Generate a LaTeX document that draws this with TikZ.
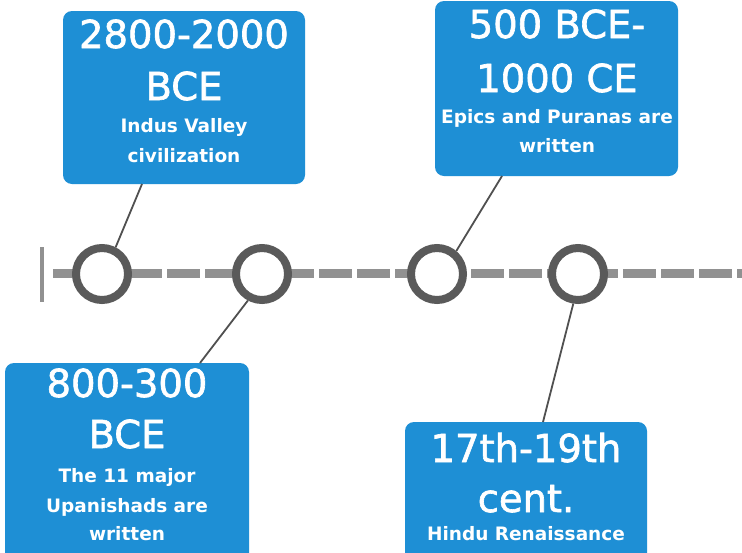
\documentclass[tikz,border=0pt]{standalone}
\usepackage{fontspec}
\setmainfont{DejaVu Sans}
\newfontface\medface{DejaVu Sans}[FakeBold=1.6]
\definecolor{boxblue}{RGB}{30,143,213}
\definecolor{ringgray}{RGB}{90,90,90}
\definecolor{dashgray}{RGB}{145,145,145}
\definecolor{linkgray}{RGB}{80,80,80}
\begin{document}
\begin{tikzpicture}[x=1pt,y=-1pt,
 card/.style={draw=none, fill=boxblue, rounded corners=9pt, anchor=north west, inner sep=0pt, outer sep=0pt},
 big/.style={anchor=base, text=white, font=\medface\fontsize{38.5}{44}\selectfont, inner sep=0pt},
 small/.style={anchor=base, text=white, font=\fontsize{18.5}{22}\selectfont\bfseries, inner sep=0pt},
 ring/.style={circle, draw=ringgray, line width=8pt, minimum size=52pt, inner sep=0pt, fill=white},
 link/.style={draw=linkgray, line width=1.8pt},
 axis/.style={draw=dashgray, line width=9pt, dash pattern=on 33pt off 5pt},
 bar/.style={draw=dashgray, line width=4pt},
]
\clip (0,0) rectangle (742,552);
\fill[white] (0,0) rectangle (742,552);

% timeline
\coordinate (ls) at (53,273);
\coordinate (le) at (750,273);
\draw[axis] (ls) -- (le);
\coordinate (bt) at (42,247);
\coordinate (bb) at (42,302);
\draw[bar] (bt) -- (bb);

\node[ring] (r1) at (102,274) {};
\node[ring] (r2) at (262,274) {};
\node[ring] (r3) at (437,274) {};
\node[ring] (r4) at (578,274) {};

% boxes
\node[card, minimum width=242pt, minimum height=173pt] (b1) at (63,11) {};
\node[card, minimum width=243pt, minimum height=175pt] (b2) at (435,1) {};
\node[card, minimum width=244pt, minimum height=210pt] (b3) at (5,363) {};
\node[card, minimum width=242pt, minimum height=160pt] (b4) at (405,422) {};

% texts box 1
\node[big] (t1a) at (184,48) {2800-2000};
\node[big] (t1b) at (184,100) {BCE};
\node[small] (t1c) at (184,132) {Indus Valley};
\node[small] (t1d) at (184,162) {civilization};

% texts box 2
\node[big] (t2a) at (557,38) {500 BCE-};
\node[big] (t2b) at (557,92) {1000 CE};
\node[small] (t2c) at (557,123) {Epics and Puranas are};
\node[small] (t2d) at (557,152) {written};

% texts box 3
\node[big] (t3a) at (127,397) {800-300};
\node[big] (t3b) at (127,448) {BCE};
\node[small] (t3c) at (127,482) {The 11 major};
\node[small] (t3d) at (127,512) {Upanishads are};
\node[small] (t3e) at (127,540) {written};

% texts box 4
\node[big] (t4a) at (526,462) {17th-19th};
\node[big] (t4b) at (526,512) {cent.};
\node[small] (t4c) at (526,540) {Hindu Renaissance};

% connectors
\draw[link] ([xshift=79pt]b1.south west) -- (r1.63);
\draw[link] ([xshift=67pt]b2.south west) -- (r3.50);
\draw[link] (r2.-118) -- ([xshift=195pt]b3.north west);
\draw[link] (r4.-99) -- ([xshift=138pt]b4.north west);
\end{tikzpicture}
\end{document}
